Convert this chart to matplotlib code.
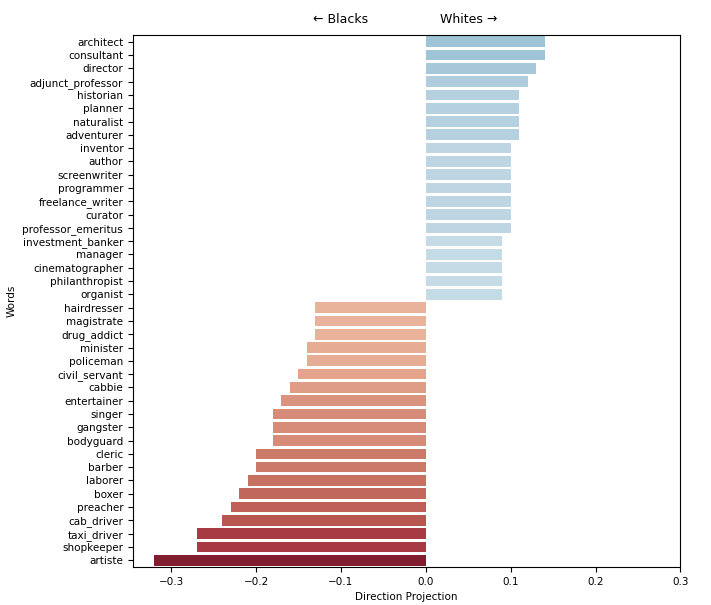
import matplotlib
matplotlib.use("Agg")
import matplotlib.pyplot as plt
import seaborn as sns
import numpy as np

words = ["architect", "consultant", "director", "adjunct_professor", "historian", "planner",
         "naturalist", "adventurer", "inventor", "author", "screenwriter", "programmer",
         "freelance_writer", "curator", "professor_emeritus", "investment_banker", "manager",
         "cinematographer", "philanthropist", "organist",
         "hairdresser", "magistrate", "drug_addict", "minister", "policeman", "civil_servant",
         "cabbie", "entertainer", "singer", "gangster", "bodyguard", "cleric", "barber",
         "laborer", "boxer", "preacher", "cab_driver", "taxi_driver", "shopkeeper", "artiste"]
projections = [0.14, 0.14, 0.13, 0.12, 0.11, 0.11, 0.11, 0.11, 0.10, 0.10, 0.10, 0.10,
               0.10, 0.10, 0.10, 0.09, 0.09, 0.09, 0.09, 0.09,
               -0.13, -0.13, -0.13, -0.14, -0.14, -0.15, -0.16, -0.17, -0.18, -0.18, -0.18,
               -0.20, -0.20, -0.21, -0.22, -0.23, -0.24, -0.27, -0.27, -0.32]

cmap = plt.get_cmap("RdBu")
norm = plt.Normalize(-0.36, 0.36)
colors = [cmap(norm(v)) for v in projections]

fig, ax = plt.subplots(figsize=(7.11, 6.05), dpi=100)
sns.barplot(x=projections, y=words, hue=words, palette=colors, legend=False, ax=ax)
ax.set_xlim(-0.345, 0.3)
ax.set_xticks(np.arange(-0.3, 0.31, 0.1))
ax.set_xlabel("Direction Projection", fontsize=7.5)
ax.set_ylabel("Words", fontsize=7.5)
ax.tick_params(labelsize=7.5)
ax.text(-0.1, -1.2, "← Blacks", ha="center", va="bottom", fontsize=9)
ax.text(0.05, -1.2, "Whites →", ha="center", va="bottom", fontsize=9)
fig.subplots_adjust(left=0.187, right=0.957, top=0.942, bottom=0.063)
fig.savefig("out.png")
